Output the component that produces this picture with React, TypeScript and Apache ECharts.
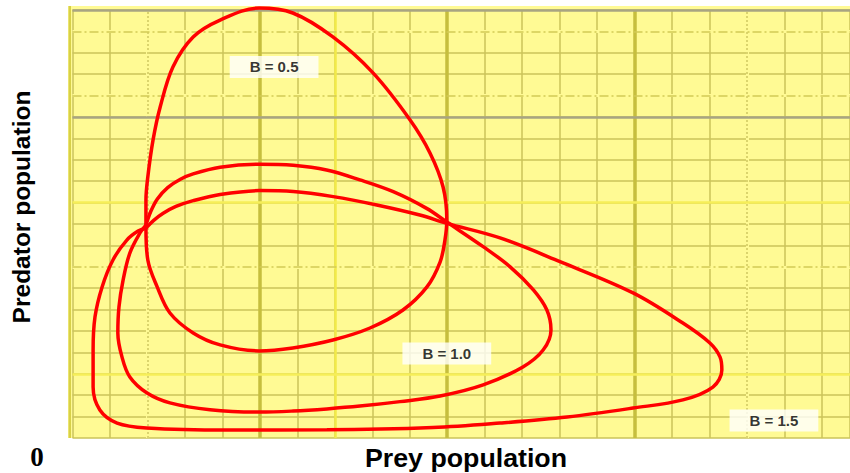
import React, { useEffect, useRef } from "react";
import * as echarts from "echarts";

// Closed orbits (prey, predator) for three values of B
const curveB05: number[][] = [
  [19.6, 98.1], [19.6, 111.2], [20.1, 122.0], [21.5, 139.3], [23.4, 154.7], [26.8, 173.4],
  [32.2, 187.4], [39.4, 195.3], [49.8, 200.9], [58.8, 198.6], [69.5, 187.4], [80.2, 170.6],
  [90.1, 148.6], [95.4, 133.2], [98.9, 117.3], [99.9, 101.9], [99.4, 92.5], [98.1, 82.2],
  [94.6, 70.6], [88.2, 59.8], [79.4, 51.4], [69.5, 45.8], [58.8, 42.1], [49.8, 40.7],
  [39.4, 43.5], [32.2, 49.1], [26.0, 58.4], [22.6, 70.6], [20.1, 83.2], [19.6, 98.1],
];

const curveB10: number[][] = [
  [19.6, 99.5], [20.8, 105.5], [22.6, 111.6], [25.4, 117.0], [28.8, 120.9], [32.2, 123.4],
  [39.4, 126.5], [49.8, 127.9], [58.9, 127.4], [67.8, 125.2], [76.7, 120.6], [85.6, 115.1],
  [94.5, 107.3], [99.9, 100.9], [109.6, 89.4], [116.8, 80.0], [123.0, 69.2], [126.6, 59.8],
  [127.7, 50.5], [125.6, 41.1], [120.2, 33.2], [109.6, 24.8], [98.1, 19.6], [87.4, 17.0],
  [76.7, 14.9], [67.9, 13.6], [58.9, 12.6], [50.0, 12.1], [36.7, 13.2], [26.0, 16.4],
  [19.9, 21.0], [15.3, 28.5], [13.2, 37.9], [12.1, 49.1], [12.4, 61.2], [13.5, 73.8],
  [15.3, 86.4], [18.0, 95.8], [19.6, 99.5],
];

const curveB15: number[][] = [
  [19.6, 98.1], [21.6, 101.6], [24.2, 105.0], [27.6, 108.2], [32.2, 110.9], [39.4, 113.8],
  [49.8, 115.6], [58.9, 115.2], [69.6, 112.8], [81.2, 108.9], [92.7, 104.2], [99.9, 100.3],
  [114.1, 93.5], [130.1, 82.4], [149.6, 67.8], [162.9, 53.7], [170.1, 44.4], [172.8, 37.9],
  [173.3, 31.8], [170.9, 23.8], [162.9, 17.8], [149.6, 14.0], [132.0, 9.8], [114.1, 7.0],
  [96.2, 4.9], [67.9, 3.8], [41.2, 3.7], [19.9, 4.7], [11.9, 7.0], [7.3, 13.1],
  [5.5, 23.8], [5.5, 41.1], [6.0, 56.5], [7.9, 70.6], [10.8, 83.2], [14.5, 92.5],
  [17.5, 96.7], [19.6, 98.1],
];

// Curve annotations
const labelTexts = ["B = 0.5", "B = 1.0", "B = 1.5"];
const labelX = [53.8, 99.9, 187.2];
const labelY = [173.4, 39.5, 8.2];

// Axis extents (grid units)
const X_MAX = 207.5;
const Y_MAX = 200;
const GRID_STEP = 10;

// Special grid lines
const thickX = [50, 100, 150];
const dottedX = [20, 180];
const brightX = [70];
const grayY = [200, 150];
const dashDotY = [190, 160, 80];
const brightY = [110, 30];

const BG = "#FFFA94";
const LINE = "#CBC35A";

export default function App() {
  const ref = useRef<HTMLDivElement>(null);
  useEffect(() => {
    if (!ref.current) return;
    const chart = echarts.init(ref.current, undefined, { renderer: "svg" });
    const ml = (data: any[], z: number) => ({
      type: "line",
      data: [],
      z,
      silent: true,
      markLine: { symbol: ["none", "none"], silent: true, label: { show: false }, animation: false, data },
    });
    const vLines = (vals: number[], style: any) => vals.map((v) => ({ xAxis: v, lineStyle: style }));
    const hLines = (vals: number[], style: any) => vals.map((v) => ({ yAxis: v, lineStyle: style }));
    const curve = (name: string, data: number[][]) => ({
      name,
      type: "line",
      data,
      smooth: 0.35,
      showSymbol: false,
      clip: false,
      z: 5,
      lineStyle: { color: "#FF0000", width: 3.5 },
    });
    chart.setOption({
      animation: false,
      grid: {
        left: 72.5,
        top: 10,
        width: 777.5,
        height: 428,
        show: true,
        backgroundColor: BG,
        borderWidth: 0,
      },
      xAxis: {
        type: "value",
        min: 0,
        max: X_MAX,
        interval: GRID_STEP,
        axisLine: { show: false },
        axisTick: { show: false },
        axisLabel: { show: false },
        splitLine: { show: true, lineStyle: { color: LINE, width: 1.5 } },
      },
      yAxis: {
        type: "value",
        min: 0,
        max: Y_MAX,
        interval: GRID_STEP,
        axisLine: { show: false },
        axisTick: { show: false },
        axisLabel: { show: false },
        splitLine: { show: true, lineStyle: { color: LINE, width: 1.5 } },
      },
      graphic: [
        { type: "rect", z: 0, shape: { x: 68, y: 6, width: 782, height: 4 }, style: { fill: BG } },
        { type: "rect", z: 0, shape: { x: 68, y: 6, width: 4.5, height: 432 }, style: { fill: BG } },
        { type: "rect", z: 0, shape: { x: 68.5, y: 6, width: 2.5, height: 432 }, style: { fill: "#D8D048" } },
        {
          type: "text",
          z: 50,
          x: 21,
          y: 207,
          rotation: Math.PI / 2,
          style: {
            text: "Predator population",
            font: "bold 24.5px 'Liberation Sans', Arial, sans-serif",
            fill: "#000",
            textAlign: "center",
            textVerticalAlign: "middle",
          },
        },
        {
          type: "text",
          z: 50,
          x: 466,
          y: 458,
          scaleX: 1.07,
          style: {
            text: "Prey population",
            font: "bold 25px 'Liberation Sans', Arial, sans-serif",
            fill: "#000",
            textAlign: "center",
            textVerticalAlign: "middle",
          },
        },
        {
          type: "text",
          z: 50,
          x: 37,
          y: 457,
          style: {
            text: "0",
            font: "bold 27px 'Liberation Serif', 'Times New Roman', serif",
            fill: "#000",
            textAlign: "center",
            textVerticalAlign: "middle",
          },
        },
      ],
      series: [
        ml(
          [
            ...vLines(dottedX, { color: BG, width: 3, type: "solid" }),
            ...hLines(dashDotY, { color: BG, width: 3, type: "solid" }),
          ],
          1
        ),
        ml(
          [
            ...vLines(thickX, { color: "#C6BE3E", width: 3.5, type: "solid" }),
            ...vLines(dottedX, { color: "#CFC860", width: 1.5, type: [2, 2] }),
            ...vLines(brightX, { color: "#F2EA48", width: 2.5, type: "solid" }),
            ...hLines(dashDotY, { color: "#D2CA55", width: 1.5, type: [9, 3, 2, 3] }),
            ...hLines(brightY, { color: "#F6EE58", width: 2.5, type: "solid" }),
            ...hLines(grayY, { color: "#A8A482", width: 2.5, type: "solid" }),
          ],
          2
        ),
        curve("B = 0.5", curveB05),
        curve("B = 1.0", curveB10),
        curve("B = 1.5", curveB15),
        {
          type: "scatter",
          z: 10,
          symbolSize: 0,
          silent: true,
          data: labelTexts.map((t, i) => ({ value: [labelX[i], labelY[i]], name: t })),
          label: {
            show: true,
            position: "inside",
            formatter: (p: any) => p.name,
            backgroundColor: "#FFFFFF",
            padding: [4, 20, 3, 20],
            color: "#000",
            fontWeight: "bold",
            fontSize: 15,
            fontFamily: "'Liberation Sans', Arial, sans-serif",
          },
        },
      ],
    });
    return () => chart.dispose();
  }, []);
  return (
    <div
      ref={ref}
      style={{ position: "fixed", left: 0, top: 0, width: 850, height: 473, background: "#fff" }}
    />
  );
}
